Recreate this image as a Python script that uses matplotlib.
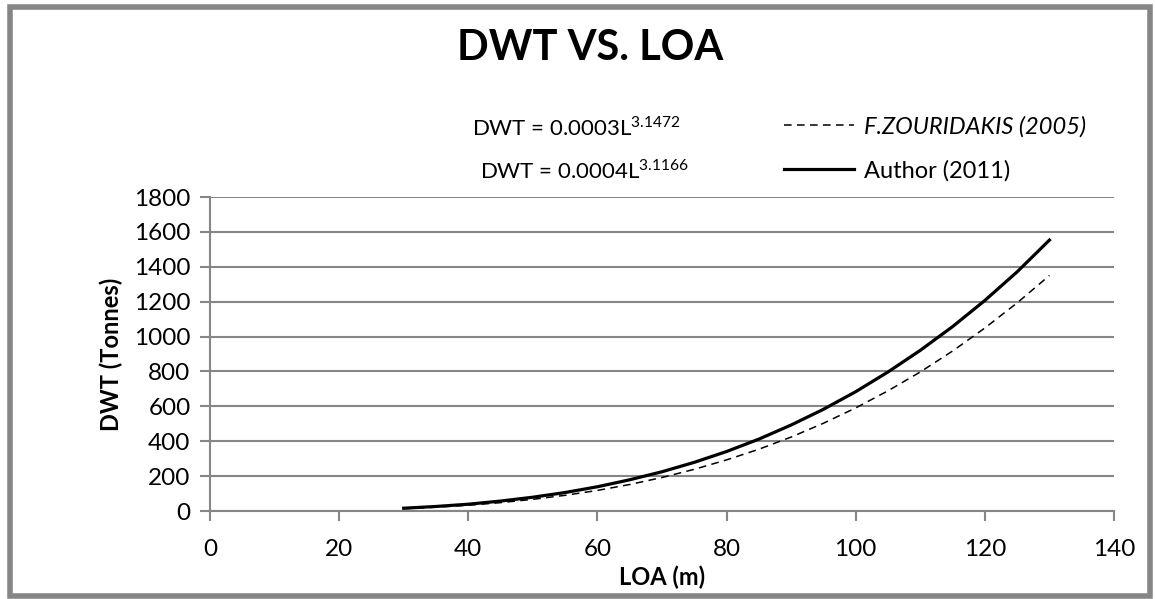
import matplotlib.pyplot as plt
from matplotlib.patches import Rectangle

plt.rcParams['font.family'] = ['Lato', 'DejaVu Sans']

# values (LOA in m, DWT in tonnes)
loa = [30, 35, 40, 45, 50, 55, 60, 65, 70, 75, 80,
       85, 90, 95, 100, 105, 110, 115, 120, 125, 130]
dwt_zouridakis = [13, 22, 33, 48, 67, 90, 118, 152, 192, 239, 293,
                  354, 424, 503, 591, 689, 797, 917, 1049, 1193, 1350]
dwt_author = [16, 26, 39, 57, 79, 106, 139, 179, 225, 279, 341,
              412, 493, 583, 684, 797, 921, 1057, 1207, 1371, 1553]

labels = ["F.ZOURIDAKIS (2005)", "Author (2011)"]
equations = [r"DWT = 0.0003L$^{\mathregular{3.1472}}$",
             r"DWT = 0.0004L$^{\mathregular{3.1166}}$"]

x_ticks = [0, 20, 40, 60, 80, 100, 120, 140]
y_ticks = [0, 200, 400, 600, 800, 1000, 1200, 1400, 1600, 1800]

fig = plt.figure(figsize=(11.55, 5.99), dpi=100)
ax = fig.add_axes([0.1818, 0.1469, 0.7827, 0.5242])

grey = "#868686"

# outer chart border
fig.patches.append(Rectangle((0.009, 0.005), 0.987, 0.984, transform=fig.transFigure,
                             fill=False, edgecolor=grey, linewidth=4))

l1, = ax.plot(loa, dwt_zouridakis, color="black", linewidth=1.1, linestyle=(0, (5, 3.5)))
l2, = ax.plot(loa, dwt_author, color="black", linewidth=2.3)

ax.set_xlim(0, 140)
ax.set_ylim(0, 1800)
ax.set_xticks(x_ticks)
ax.set_yticks(y_ticks)
ax.tick_params(labelsize=17.5, color=grey, width=1.5, length=7, pad=7)
ax.tick_params(axis="x", pad=13)

ax.grid(axis="y", color=grey, linewidth=1.5)
ax.set_axisbelow(True)
for s in ["top", "right"]:
    ax.spines[s].set_visible(False)
for s in ["left", "bottom"]:
    ax.spines[s].set_color(grey)
    ax.spines[s].set_linewidth(1.5)

ax.set_xlabel("LOA (m)", fontsize=17, fontweight="bold", labelpad=4)
ax.set_ylabel("DWT (Tonnes)", fontsize=17, fontweight="bold", labelpad=8)

fig.text(0.511, 0.92, "DWT VS. LOA", ha="center", va="center",
         fontsize=30, fontweight="bold")

fig.text(0.409, 0.787, equations[0], fontsize=16, va="center")
fig.text(0.416, 0.716, equations[1], fontsize=16, va="center")

leg = fig.legend([l1, l2], labels, loc="center left", bbox_to_anchor=(0.66, 0.752),
                 frameon=False, fontsize=17, handlelength=3.0, handletextpad=0.4,
                 labelspacing=0.95)
leg.get_texts()[0].set_fontstyle("italic")

fig.savefig("out.png", dpi=100)
